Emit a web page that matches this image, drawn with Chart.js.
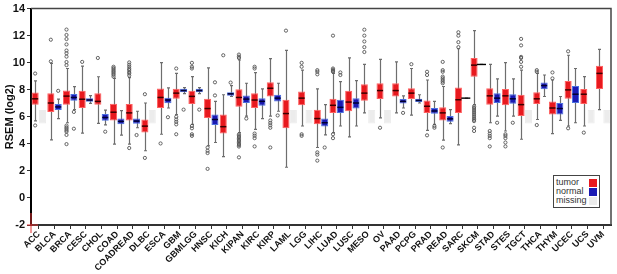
<!DOCTYPE html>
<html lang="en">
<head>
  <meta charset="UTF-8">
  <title>RSEM boxplot</title>
  <style>
    body {
      margin: 0;
      background: #fff;
      font-family: Arial, 'Liberation Sans', sans-serif;
    }
    .wrap {
      position: relative;
      width: 617px;
      height: 274px;
    }
    #legend {
      position: absolute;
      left: 553px;
      top: 175px;
      width: 47px;
      height: 33px;
      border: 1px solid #444;
      background: #fff;
      box-sizing: border-box;
    }
    #legend div {
      position: absolute;
      left: 2px;
      font-size: 9px;
      line-height: 9px;
      color: #333;
      white-space: nowrap;
    }
    #legend span {
      position: absolute;
      left: 35px;
      width: 8px;
      height: 8px;
    }
  </style>
</head>
<body>
  <div class="wrap">
    <canvas id="chart" width="617" height="274"></canvas>
    <div id="legend">
      <div style="top:2px">tumor</div><span style="top:3px;background:#e8191e"></span>
      <div style="top:11px">normal</div><span style="top:12px;background:#1a1ab4"></span>
      <div style="top:20px">missing</div><span style="top:21px;background:#ececec"></span>
    </div>
  </div>

  <script src="https://cdn.jsdelivr.net/npm/chart.js"></script>
  <script>
    const cats = ['ACC','BLCA','BRCA','CESC','CHOL','COAD','COADREAD','DLBC','ESCA','GBM','GBMLGG','HNSC','KICH','KIPAN','KIRC','KIRP','LAML','LGG','LIHC','LUAD','LUSC','MESO','OV','PAAD','PCPG','PRAD','READ','SARC','SKCM','STAD','STES','TGCT','THCA','THYM','UCEC','UCS','UVM'];
    const yTicks = [-2, 0, 2, 4, 6, 8, 10, 12, 14];

    // tumor boxes
    const tMin = [5.7,4.3,5.56,4.8,5.51,3.98,3.98,3.49,4.71,6.17,5.44,3.86,3.05,4.83,5.07,6.05,2.27,5.32,3.73,4.83,4.51,6.29,5.92,6.29,6.12,5.0,4.27,3.93,6.9,5.56,4.95,4.34,5.8,4.76,5.32,5.32,6.53];
    const tQ1  = [6.9,6.36,6.9,6.65,6.9,5.73,5.73,4.83,6.65,7.34,6.95,5.92,4.76,6.75,6.65,7.5,5.15,6.85,5.44,6.29,6.41,7.19,7.31,7.5,7.31,6.29,5.73,6.29,8.97,6.9,6.85,6.05,6.95,6.17,7.33,6.95,8.06];
    const tMed = [7.33,7.02,7.53,7.3,7.14,6.34,6.29,5.31,7.43,7.75,7.51,6.61,5.27,7.43,7.24,8.11,6.24,7.38,5.87,6.85,7.09,7.75,7.94,7.94,7.75,6.78,6.29,7.26,9.82,7.55,7.55,6.9,7.33,6.65,7.99,7.67,9.21];
    const tQ3  = [7.8,7.75,7.94,7.92,7.75,6.97,6.95,5.8,8.09,8.07,7.92,7.33,6.17,8.04,7.75,8.55,7.26,7.87,6.53,7.33,7.92,8.41,8.48,8.48,8.11,7.21,6.7,8.16,10.35,8.11,8.06,7.63,7.82,7.14,8.65,8.06,9.77];
    const tMax = [8.65,9.95,9.57,9.74,8.96,8.84,8.9,7.02,10.0,9.21,8.97,9.62,7.63,10.2,9.26,10.3,10.91,9.45,8.06,9.21,10.35,9.87,10.25,10.06,9.57,8.72,8.24,11.03,12.37,9.87,10.01,9.45,9.21,8.72,10.55,8.97,10.98];
    const tOut = [
      [9.2,5.36],
      [10.1,11.7],
      [9.82,10.05,10.45,10.7,10.9,11.35,11.75,12.05,12.45,5.35,5.22,5.12,5.0,4.9,4.66,3.98],
      [10.06],
      [10.35],
      [8.97,9.1,9.2,9.3,9.4,9.5,9.6,9.7],
      [9.05,9.2,9.3,9.45,9.55,9.7,9.85,10.02,3.69],
      [7.67,2.96],
      [4.03],
      [9.57,6.0,5.8,5.63,5.44,4.71],
      [9.57,9.7,9.99,5.32,5.15,4.71,4.59],
      [3.73,3.49,3.32,2.15],
      [10.55],
      [10.35,10.45,10.6,4.7,4.6,4.5,4.4,4.3,4.2,4.1,4.0,3.9,3.8,3.0],
      [9.57,9.7,4.76,4.6,4.42,3.81],
      [5.73,5.55,5.37,5.19,3.73],
      [12.37],
      [9.7,9.99,4.71,4.59],
      [9.14,9.33,9.45,3.37,3.2,2.76],
      [9.33,9.4,9.48,9.57,12.0,4.71,4.42],
      [],
      [10.79,11.15,11.57,12.0,12.44],
      [5.19],
      [],
      [9.89],
      [9.09,9.33,4.63],
      [8.48,8.6,8.72,8.85,8.97,9.33,9.45,10.06,3.73],
      [11.15,11.52,12.0,12.25],
      [6.77,6.65,6.5,6.35,6.2,6.05,5.9,5.78,5.68,5.19,4.95],
      [4.95,4.76,4.59,4.42,3.81],
      [4.71,4.59,4.42,4.1,3.81],
      [9.7,10.06,10.35,10.43,11.28,11.76],
      [9.33,9.45,5.39],
      [8.84,9.28],
      [10.84,5.15],
      [4.83],
      []
    ];

    // normal boxes, null = missing
    const nMin = [null,5.87,6.53,7.0,5.4,4.65,5.19,null,6.65,7.72,7.72,4.1,7.5,6.05,5.87,6.41,null,null,4.66,5.32,5.32,null,null,6.65,7.02,5.44,5.49,7.38,9.87,6.05,6.05,null,7.5,5.73,5.56,null,null];
    const nQ1  = [null,6.51,7.19,7.12,5.7,5.44,5.49,null,7.01,7.82,7.82,5.39,7.55,7.02,6.82,7.14,null,null,5.29,6.29,6.61,null,null,6.99,7.09,6.22,5.63,7.38,9.87,7.02,6.97,null,8.04,6.17,7.02,null,null];
    const nMed = [null,6.73,7.43,7.24,5.95,5.66,5.68,null,7.24,7.94,7.94,5.8,7.7,7.31,7.14,7.38,null,null,5.56,6.7,7.02,null,null,7.14,7.21,6.43,5.85,7.38,9.87,7.38,7.33,null,8.31,6.61,7.67,null,null];
    const nQ3  = [null,6.95,7.68,7.38,6.2,5.88,5.88,null,7.4,8.07,8.07,6.17,7.82,7.58,7.38,7.63,null,null,5.87,7.26,7.38,null,null,7.31,7.33,6.65,6.05,7.38,9.87,7.75,7.67,null,8.53,7.02,8.28,null,null];
    const nMax = [null,7.3,8.23,7.56,6.5,6.46,6.41,null,8.14,8.16,8.16,7.14,8.31,8.48,8.06,8.48,null,null,6.9,8.6,8.67,null,null,7.55,7.63,7.14,6.53,7.38,9.87,8.8,8.8,null,9.09,7.5,9.57,null,null];
    const nOut = [
      [],[7.92],[6.36,5.12],[],[4.9],[],[4.65],[],[5.97],[6.53],[6.53],[7.58,8.55],[8.53],[5.87],[],[6.1],
      [],[],[3.73],[9.09,9.28],[],[],[],[6.29],[],[5.32,5.19],[],[],[],[5.56],[5.56],[],[],[],[],[],[]
    ];
    const missingRange = [5.5, 6.5];

    const RED = '#e8191e', BLUE = '#1a1ab4', GREY = '#ececec';

    const boxExtras = {
      id: 'boxExtras',
      beforeDatasetsDraw(chart) {
        const c = chart.ctx, y = chart.scales.y;
        const sets = [[tMin, tQ1, tQ3, tMax], [nMin, nQ1, nQ3, nMax]];
        c.save();
        c.strokeStyle = '#6e6e6e';
        c.lineWidth = 1.2;
        sets.forEach((s, d) => {
          chart.getDatasetMeta(d).data.forEach((el, i) => {
            if (s[0][i] == null) return;
            const x = Math.round(el.x) + 0.5;
            const lo = y.getPixelForValue(s[0][i]), hi = y.getPixelForValue(s[3][i]);
            c.beginPath();
            c.moveTo(x, lo); c.lineTo(x, hi);
            c.moveTo(x - 1.5, lo); c.lineTo(x + 1.5, lo);
            c.moveTo(x - 1.5, hi); c.lineTo(x + 1.5, hi);
            c.stroke();
          });
        });
        c.restore();
      },
      afterDatasetsDraw(chart) {
        const c = chart.ctx, y = chart.scales.y;
        const sets = [[tMed, tOut, '#3a0000'], [nMed, nOut, '#000030']];
        c.save();
        sets.forEach((s, d) => {
          chart.getDatasetMeta(d).data.forEach((el, i) => {
            if (s[0][i] == null) return;
            const m = y.getPixelForValue(s[0][i]);
            const single = d === 1 && nQ1[i] === nQ3[i];
            const hw = single ? el.width / 2 + 1 : el.width / 2 - 0.5;
            c.strokeStyle = single ? '#000' : s[2];
            c.lineWidth = single ? 1.4 : 1.5;
            c.beginPath();
            c.moveTo(el.x - hw, m); c.lineTo(el.x + hw, m);
            c.stroke();
            c.strokeStyle = '#555';
            c.lineWidth = 0.9;
            s[1][i].forEach(v => {
              c.beginPath();
              c.arc(el.x, y.getPixelForValue(v), 1.6, 0, 2 * Math.PI);
              c.stroke();
            });
          });
        });
        c.restore();
      },
      afterDraw(chart) {
        const c = chart.ctx, a = chart.chartArea;
        c.save();
        c.strokeStyle = '#444';
        c.lineWidth = 1.5;
        c.beginPath();
        c.moveTo(a.left, a.top); c.lineTo(a.right, a.top); c.lineTo(a.right, a.bottom);
        c.stroke();
        c.strokeStyle = '#e03030';
        c.lineWidth = 1;
        c.beginPath();
        c.moveTo(a.left, a.bottom - 12); c.lineTo(a.left, a.bottom + 8);
        c.moveTo(a.left - 4, a.bottom); c.lineTo(a.left + 7, a.bottom);
        c.stroke();
        c.restore();
      }
    };

    new Chart(document.getElementById('chart'), {
      type: 'bar',
      data: {
        labels: cats,
        datasets: [
          {
            label: 'tumor',
            data: tQ1.map((v, i) => [v, tQ3[i]]),
            backgroundColor: RED,
            borderColor: '#ff6060',
            borderWidth: 1,
            borderSkipped: false,
            categoryPercentage: 0.94,
            barPercentage: 0.96
          },
          {
            label: 'normal',
            data: nQ1.map((v, i) => v == null ? missingRange : [v, nQ3[i]]),
            backgroundColor: nQ1.map(v => v == null ? GREY : BLUE),
            borderColor: nQ1.map(v => v == null ? GREY : '#4a6fe0'),
            borderWidth: 1,
            borderSkipped: false,
            categoryPercentage: 0.94,
            barPercentage: 0.96
          }
        ]
      },
      options: {
        responsive: false,
        animation: false,
        layout: { padding: { top: 6, right: 6, left: 0, bottom: 0 } },
        plugins: { legend: { display: false }, tooltip: { enabled: false } },
        scales: {
          x: {
            afterFit(s) { s.height = 49; },
            grid: { drawOnChartArea: false, offset: false, tickLength: 4, color: '#333' },
            border: { color: '#333', width: 2 },
            ticks: {
              autoSkip: false,
              maxRotation: 45,
              minRotation: 45,
              padding: 0,
              color: '#111',
              font: { family: 'Arial', size: 9, weight: 'bold' }
            }
          },
          y: {
            min: -2,
            max: 14,
            afterFit(s) { s.width = 31; },
            afterBuildTicks(s) { s.ticks = yTicks.map(v => ({ value: v })); },
            grid: { drawOnChartArea: false, tickLength: 4, color: '#333' },
            border: { color: '#000', width: 2 },
            title: {
              display: true,
              text: 'RSEM (log2)',
              color: '#111',
              padding: { top: 3, bottom: 0 },
              font: { family: 'Arial', size: 11, weight: 'bold' }
            },
            ticks: {
              padding: 2,
              color: '#111',
              font: { family: 'Arial', size: 11, weight: 'bold' }
            }
          }
        }
      },
      plugins: [boxExtras]
    });
  </script>
</body>
</html>
